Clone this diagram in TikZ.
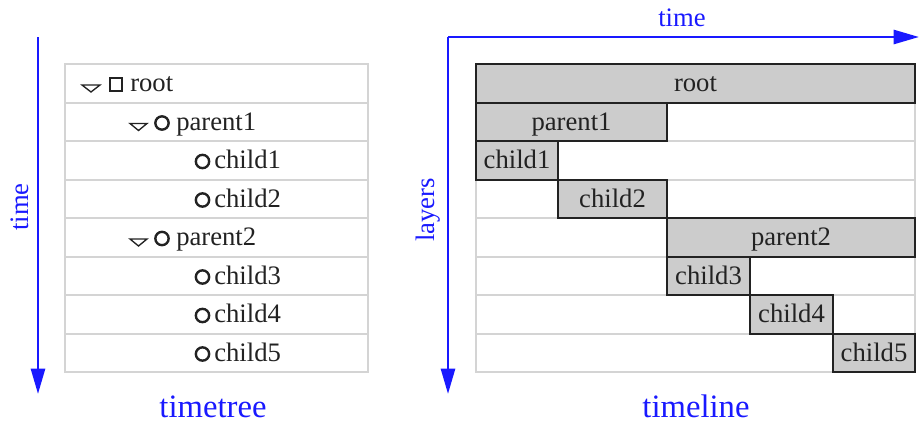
\documentclass[tikz,border=0pt]{standalone}
\usepackage{fontspec}
\setmainfont{Liberation Serif}
\usetikzlibrary{arrows.meta}
\definecolor{axisblue}{RGB}{25,25,255}
\definecolor{gridgray}{RGB}{212,212,212}
\definecolor{barfill}{RGB}{204,204,204}
\definecolor{ink}{RGB}{34,34,34}
\begin{document}
\begin{tikzpicture}[x=0.75pt,y=-0.75pt,
  axis/.style={draw=axisblue, line width=2pt, -{Triangle[length=19pt,width=10.5pt]}},
  axislabel/.style={text=axisblue, font=\fontsize{20}{24}\selectfont, inner sep=0pt},
  caption/.style={text=axisblue, font=\fontsize{24.5}{28}\selectfont, inner sep=0pt, anchor=base},
  grid/.style={draw=gridgray, line width=1.5pt},
  itemtext/.style={font=\fontsize{20}{24}\selectfont, text=ink, inner sep=0pt, anchor=base west},
  bartext/.style={font=\fontsize{20}{24}\selectfont, text=ink, inner sep=0pt, anchor=base},
  bar/.style={draw=ink, fill=barfill, line width=1.5pt},
  thinicon/.style={draw=ink, line width=1pt},
  roundicon/.style={draw=ink, line width=1.8pt}
]
\useasboundingbox (0,0) rectangle (920,425);

% ---------- timetree ----------
\draw[grid] (65,64) rectangle (368,372);
\foreach \i in {1,...,7} {
  \draw[grid] (65,64+38.5*\i) -- (368,64+38.5*\i);
}

% root row: expander, square marker, label
\draw[thinicon] (82,85) -- (100,85) -- (91,92) -- cycle;
\draw[thinicon] (110,78) rectangle (122,91);
\node[itemtext] (t-root) at (130,91.5) {root};

% parent rows
\foreach \r/\name/\txt in {1/t-parent1/parent1, 4/t-parent2/parent2} {
  \draw[thinicon] (130,85+38.5*\r) -- (147,85+38.5*\r) -- (138.5,92+38.5*\r) -- cycle;
  \draw[roundicon] (162,84.5+38.5*\r) circle[radius=5pt];
  \node[itemtext] (\name) at (176,91.5+38.5*\r) {\txt};
}

% child rows
\foreach \r/\name/\txt in {2/t-child1/child1, 3/t-child2/child2, 5/t-child3/child3,
                          6/t-child4/child4, 7/t-child5/child5} {
  \draw[roundicon] (202.5,84.5+38.5*\r) circle[radius=5pt];
  \node[itemtext] (\name) at (214,91.5+38.5*\r) {\txt};
}

% time axis and caption
\coordinate (lt-top) at (38,37);
\coordinate (lt-bot) at (38,394);
\draw[axis] (lt-top) -- (lt-bot);
\node[axislabel, rotate=90] (lt-label) at (20,207) {time};
\node[caption] (cap-tree) at (213,417) {timetree};

% ---------- timeline ----------
\draw[grid] (476,64) rectangle (915,372);
\foreach \i in {1,...,7} {
  \draw[grid] (476,64+38.5*\i) -- (915,64+38.5*\i);
}

\foreach \r/\xa/\xb/\name/\txt in {0/476/915/l-root/root,
                                   1/476/667/l-parent1/parent1,
                                   2/476/558/l-child1/child1,
                                   3/558/667/l-child2/child2,
                                   4/667/915/l-parent2/parent2,
                                   5/667/750/l-child3/child3,
                                   6/750/833/l-child4/child4,
                                   7/833/915/l-child5/child5} {
  \draw[bar] (\xa,64+38.5*\r) rectangle (\xb,102.5+38.5*\r);
  \node[bartext] (\name) at ({(\xa+\xb)/2},91.5+38.5*\r) {\txt};
}

% axes and captions
\coordinate (origin) at (448,37);
\coordinate (time-end) at (919,37);
\coordinate (layer-end) at (448,394);
\draw[axis] (origin) -- (time-end);
\draw[axis] (origin) -- (layer-end);
\node[axislabel] (time-label) at (682,18) {time};
\node[axislabel, rotate=90] (layer-label) at (428,210) {layers};
\node[caption] (cap-line) at (696,417) {timeline};
\end{tikzpicture}
\end{document}
